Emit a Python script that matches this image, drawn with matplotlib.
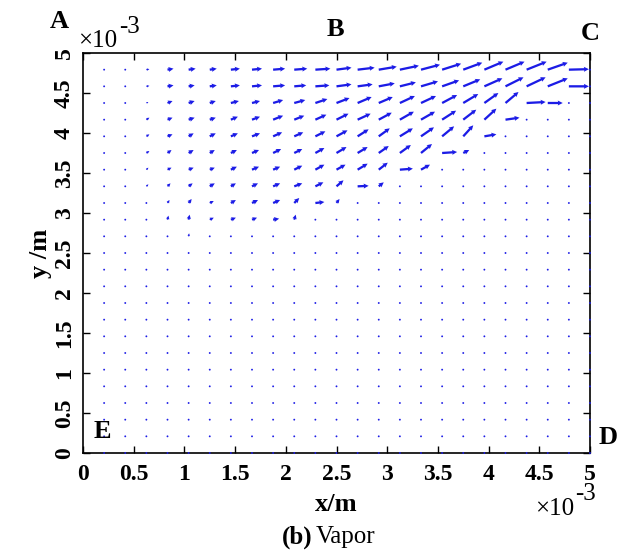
import numpy as np
import matplotlib.pyplot as plt

plt.rcParams['font.family'] = ['Liberation Serif', 'DejaVu Serif']

# quiver grid (m): 24 columns, 24 rows, spacing 5 mm / 24
x_cols = np.arange(1, 25) * 5e-3 / 24
y_rows = np.arange(0, 24) * 5e-3 / 24

# vapour velocity (arbitrary units), rows listed from the top (y = 4.79 mm)
# down to y = 2.71 mm; every row below that is at rest
u_top = [
    [0, 0, .03, .06, .07, .07, .09, .10, .12, .13, .15, .15, .17, .18, .19, .19, .19, .19, .19, .19, .20, .20, .20, 0],
    [0, 0, .03, .06, .06, .07, .09, .10, .12, .12, .14, .15, .15, .16, .16, .17, .17, .17, .18, .18, .19, .20, .20, 0],
    [0, 0, .02, .05, .06, .06, .08, .08, .10, .11, .12, .13, .14, .14, .15, .15, .15, .15, .14, .13, .19, .15, 0, 0],
    [.01, 0, .03, .05, .06, .06, .07, .08, .10, .10, .11, .12, .13, .13, .14, .14, .14, .13, .12, .14, 0, 0, 0, 0],
    [.01, 0, .03, .05, .05, .06, .07, .08, .09, .09, .10, .11, .11, .11, .13, .13, .12, .10, .12, 0, 0, 0, 0, 0],
    [.01, 0, .03, .04, .05, .05, .06, .07, .08, .08, .09, .10, .10, .10, .11, .11, .15, .06, 0, 0, 0, 0, 0, 0],
    [.01, 0, .02, .04, .05, .05, .06, .07, .07, .08, .09, .09, .10, .09, .13, .09, 0, 0, 0, 0, 0, 0, 0, 0],
    [.01, .01, .02, .03, .04, .05, .05, .06, .07, .08, .08, .07, .11, .05, 0, 0, 0, 0, 0, 0, 0, 0, 0, 0],
    [0, .01, .01, .02, .03, .04, .05, .06, .07, .05, .09, .03, 0, 0, 0, 0, 0, 0, 0, 0, 0, 0, 0, 0],
    [.01, .01, .015, .01, .01, .04, .05, .05, .06, .015, 0, 0, 0, 0, 0, 0, 0, 0, 0, 0, 0, 0, 0, 0],
    [.01, .01, 0, 0, .005, 0, 0, 0, 0, 0, 0, 0, 0, 0, 0, 0, 0, 0, 0, 0, 0, 0, 0, 0],
]
v_top = [
    [0, 0, .005, .01, .01, .01, .01, .01, .01, .01, .01, .02, .02, .03, .04, .05, .06, .07, .08, .08, .08, .07, .005, 0],
    [0, 0, .005, .01, .01, .01, .01, .01, .01, .01, .01, .02, .02, .03, .04, .05, .06, .07, .08, .09, .09, .08, 0, 0],
    [0, 0, .01, .02, .02, .02, .02, .02, .03, .03, .04, .05, .06, .06, .07, .07, .08, .09, .10, .11, .01, 0, 0, 0],
    [-.01, 0, .02, .02, .02, .02, .03, .03, .04, .04, .05, .06, .06, .07, .08, .08, .09, .10, .11, .02, 0, 0, 0, 0],
    [-.01, 0, .02, .02, .03, .03, .03, .03, .04, .04, .05, .06, .07, .08, .08, .09, .10, .11, .02, 0, 0, 0, 0, 0],
    [-.01, 0, .02, .03, .03, .03, .03, .03, .04, .04, .05, .06, .06, .07, .08, .09, .01, .03, 0, 0, 0, 0, 0, 0],
    [-.01, 0, .02, .02, .02, .02, .03, .03, .03, .04, .05, .05, .06, .07, .01, .05, 0, 0, 0, 0, 0, 0, 0, 0],
    [-.01, -.01, .02, .03, .03, .03, .03, .03, .03, .03, .04, .06, .005, .04, 0, 0, 0, 0, 0, 0, 0, 0, 0, 0],
    [0, -.01, -.01, .03, .04, .02, .03, .03, .03, .05, .01, .04, 0, 0, 0, 0, 0, 0, 0, 0, 0, 0, 0, 0],
    [-.01, -.01, 0, .04, .05, .02, .02, .02, .01, .05, 0, 0, 0, 0, 0, 0, 0, 0, 0, 0, 0, 0, 0, 0],
    [-.01, -.01, 0, 0, .03, 0, 0, 0, 0, 0, 0, 0, 0, 0, 0, 0, 0, 0, 0, 0, 0, 0, 0, 0],
]
n_rest = len(y_rows) - len(u_top)

tick_pos = [0, 0.5e-3, 1e-3, 1.5e-3, 2e-3, 2.5e-3, 3e-3, 3.5e-3, 4e-3, 4.5e-3, 5e-3]
tick_lab = ['0', '0.5', '1', '1.5', '2', '2.5', '3', '3.5', '4', '4.5', '5']

U = np.vstack([np.zeros((n_rest, len(x_cols))), np.array(u_top)[::-1]])
V = np.vstack([np.zeros((n_rest, len(x_cols))), np.array(v_top)[::-1]])
X, Y = np.meshgrid(x_cols, y_rows)

W, H = 623, 560
fig = plt.figure(figsize=(W / 100, H / 100), dpi=100)
ax = fig.add_axes([83 / W, 1 - 453 / H, 507 / W, 400 / H])

ax.quiver(X, Y, U, V, angles='uv', scale_units='width', scale=5.07, pivot='tail',
          color='#1c1ce6', width=0.0045, headwidth=2.2, headlength=2.2, headaxislength=2.0,
          minshaft=1.2, minlength=0.9, zorder=3, clip_on=False)

ax.set_xlim(0, 5e-3)
ax.set_ylim(0, 5e-3)
ax.set_xticks(tick_pos)
ax.set_xticklabels(tick_lab, fontsize=17, fontweight='bold')
ax.set_yticks(tick_pos)
ax.set_yticklabels(tick_lab, fontsize=17, fontweight='bold', rotation=90, va='center')
ax.tick_params(direction='in', top=True, right=True, length=5, width=1)
ax.tick_params(axis='x', pad=8)
ax.tick_params(axis='y', pad=6)
for s in ax.spines.values():
    s.set_linewidth(1.2)

ax.set_xlabel('x/m', fontsize=19, fontweight='bold', labelpad=6)
ax.set_ylabel('y /m', fontsize=19, fontweight='bold', labelpad=1)


def ftext(px, py, s, **kw):
    fig.text(px / W, 1 - py / H, s, **kw)


# exponent markers
ftext(78, 47, '\u00d710', fontsize=18, va='baseline')
ftext(119, 33, '-3', fontsize=18, va='baseline')
ftext(535, 515, '\u00d710', fontsize=18, va='baseline')
ftext(575, 500, '-3', fontsize=18, va='baseline')

# corner points
for lab, px, py in [('A', 59, 22), ('B', 335, 29), ('C', 590, 33), ('D', 608, 437), ('E', 102, 431)]:
    ftext(px, py, lab, fontsize=19, fontweight='bold', ha='center', va='center')

ftext(312, 537, '(b)', fontsize=18, fontweight='bold', ha='right', va='center')
ftext(316, 537, 'Vapor', fontsize=18, ha='left', va='center')

fig.savefig('out.png', dpi=100)
